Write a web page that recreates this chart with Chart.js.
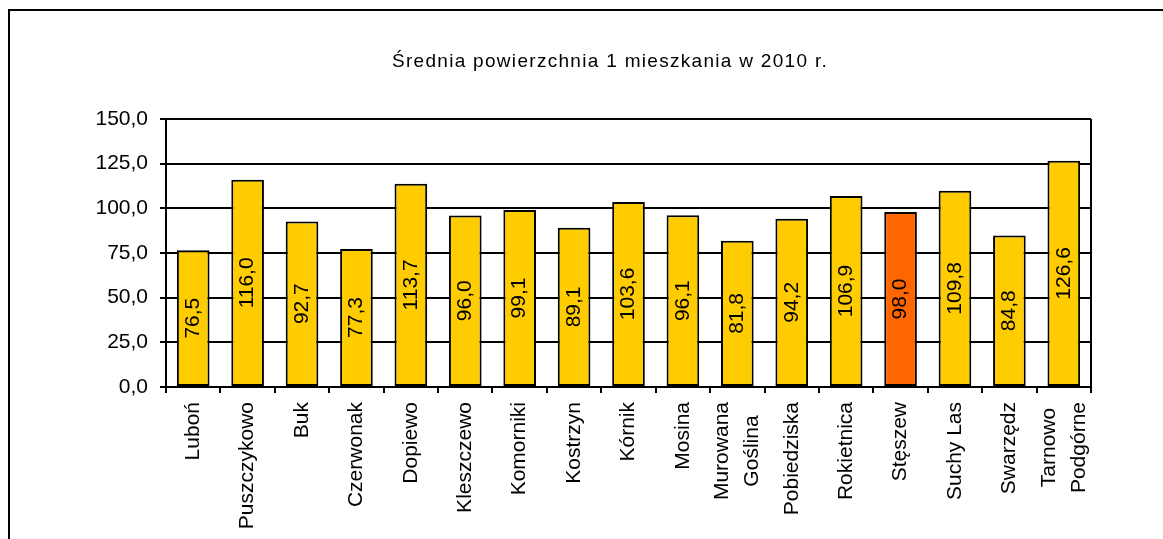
<!DOCTYPE html>
<html><head><meta charset="utf-8">
<script src="https://cdn.jsdelivr.net/npm/chart.js@4.4.0/dist/chart.umd.min.js"></script>
<style>
html,body{margin:0;padding:0;background:#fff;overflow:hidden;}
#wrap{position:relative;width:1163px;height:539px;overflow:hidden;}
#frame{position:absolute;left:8px;top:9px;width:1300px;height:700px;border:2px solid #000;box-sizing:border-box;}
#title{position:absolute;left:610px;top:51px;transform:translateX(-50%);font:19px "Liberation Sans",Arial,sans-serif;letter-spacing:1.3px;line-height:19px;white-space:nowrap;color:#000;}
canvas{position:absolute;left:0;top:0;}
</style></head><body>
<div id="wrap"><div id="frame"></div><canvas id="c" width="1163" height="539"></canvas><div id="title">Średnia powierzchnia 1 mieszkania w 2010 r.</div></div>
<script>
const categories = [['Luboń'],['Puszczykowo'],['Buk'],['Czerwonak'],['Dopiewo'],['Kleszczewo'],['Komorniki'],['Kostrzyn'],['Kórnik'],['Mosina'],['Murowana','Goślina'],['Pobiedziska'],['Rokietnica'],['Stęszew'],['Suchy Las'],['Swarzędz'],['Tarnowo','Podgórne']];
const values = [76.5,116.0,92.7,77.3,113.7,96.0,99.1,89.1,103.6,96.1,81.8,94.2,106.9,98.0,109.8,84.8,126.6];
const highlighted = ['Stęszew'];
const yTicks = [0,25,50,75,100,125,150];

const FONT = '"Liberation Sans", Arial, sans-serif';
const fmt = v => v.toFixed(1).replace('.', ',');
const labelsFlat = categories.map(c => c.join(' '));
const barColors = labelsFlat.map(l => highlighted.includes(l) ? '#FF6600' : '#FFCC00');

const valueLabels = {
  id: 'valueLabels',
  afterDatasetsDraw(chart) {
    const ctx = chart.ctx, meta = chart.getDatasetMeta(0);
    ctx.save();
    ctx.font = '21px ' + FONT; ctx.fillStyle = '#000';
    ctx.textAlign = 'center'; ctx.textBaseline = 'middle';
    meta.data.forEach((bar, i) => {
      ctx.save();
      ctx.translate(bar.x, (bar.y + bar.base) / 2);
      ctx.rotate(-Math.PI / 2);
      ctx.fillText(fmt(values[i]), 0, 0);
      ctx.restore();
    });
    ctx.restore();
  }
};

const xLabels = {
  id: 'xLabels',
  afterDraw(chart) {
    const xs = chart.scales.x, ctx = chart.ctx;
    ctx.save();
    ctx.font = '21px ' + FONT; ctx.fillStyle = '#000';
    ctx.textAlign = 'right'; ctx.textBaseline = 'middle';
    const gap = 30, top = xs.top + 15;
    categories.forEach((lines, i) => {
      const cx = xs.getPixelForValue(i);
      const w = lines.map(l => ctx.measureText(l).width);
      const maxW = Math.max(...w);
      lines.forEach((l, j) => {
        ctx.save();
        ctx.translate(cx + (j - (lines.length - 1) / 2) * gap, top + (maxW - w[j]) / 2);
        ctx.rotate(-Math.PI / 2);
        ctx.fillText(l, 0, 0);
        ctx.restore();
      });
    });
    ctx.restore();
  }
};

const rightBorder = {
  id: 'rightBorder',
  beforeDatasetsDraw(chart) {
    const a = chart.chartArea, ctx = chart.ctx;
    ctx.save(); ctx.strokeStyle = '#000'; ctx.lineWidth = 2;
    ctx.beginPath(); ctx.moveTo(a.right, a.top); ctx.lineTo(a.right, a.bottom); ctx.stroke();
    ctx.restore();
  }
};

new Chart(document.getElementById('c'), {
  type: 'bar',
  data: {
    labels: labelsFlat,
    datasets: [{
      data: values,
      backgroundColor: barColors,
      borderColor: '#000',
      borderWidth: 2,
      borderSkipped: false,
      barPercentage: 0.6,
      categoryPercentage: 1.0
    }]
  },
  options: {
    responsive: false,
    animation: false,
    layout: { padding: { left: 95, right: 72, top: 119, bottom: 0 } },
    plugins: { legend: { display: false }, title: { display: false }, tooltip: { enabled: false } },
    scales: {
      x: {
        grid: { display: true, drawOnChartArea: false, drawTicks: true, tickLength: 6, color: '#000', lineWidth: 2, offset: true },
        border: { display: true, color: '#000', width: 2 },
        ticks: { display: false },
        afterFit(s) { s.height = 152; }
      },
      y: {
        min: 0, max: 150,
        afterBuildTicks(s) { s.ticks = yTicks.map(v => ({ value: v })); },
        ticks: { padding: 12, color: '#000', font: { size: 21, family: FONT }, callback: v => fmt(v) },
        grid: { color: '#000', lineWidth: 2, tickLength: 6 },
        border: { color: '#000', width: 2 },
        afterFit(s) { s.width = 71; }
      }
    }
  },
  plugins: [valueLabels, xLabels, rightBorder]
});
</script>
</body></html>
